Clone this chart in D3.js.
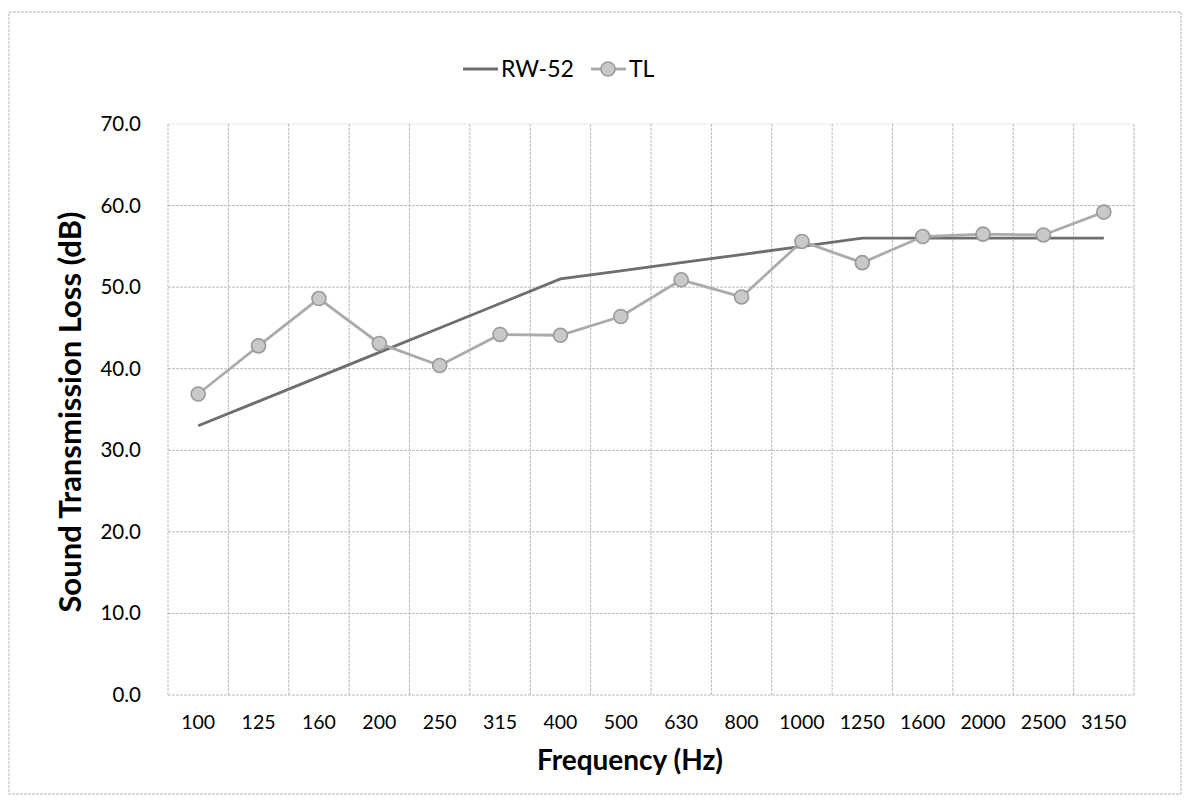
<!DOCTYPE html>
<html>
<head>
<meta charset="utf-8">
<script src="https://cdn.jsdelivr.net/npm/d3@7"></script>
<style>
  html, body { margin: 0; padding: 0; background: #fff; }
  svg { display: block; }
  text { font-family: Lato, "Open Sans", sans-serif; fill: #000; }
</style>
</head>
<body>
<svg id="chart" width="1187" height="802"></svg>
<script>
const categories = ["100","125","160","200","250","315","400","500","630","800","1000","1250","1600","2000","2500","3150"];
const rw52 = [33,36,39,42,45,48,51,52,53,54,55,56,56,56,56,56];
const tl = [36.9,42.8,48.6,43.1,40.4,44.2,44.1,46.4,50.9,48.8,55.6,53.0,56.2,56.5,56.4,59.2];
const yTicks = [0,10,20,30,40,50,60,70];

const svg = d3.select("#chart");
const plot = {left: 168, right: 1134, top: 124, bottom: 695};

// outer chart border
svg.append("rect")
  .attr("x", 9).attr("y", 12).attr("width", 1172).attr("height", 782)
  .attr("fill", "none").attr("stroke", "#b5b5b5").attr("stroke-width", 1)
  .attr("stroke-dasharray", "3,1");

const x = d3.scaleBand().domain(categories).range([plot.left, plot.right]).padding(0);
const y = d3.scaleLinear().domain([0, 70]).range([plot.bottom, plot.top]);

const g = svg.append("g");

// horizontal gridlines
g.append("g").selectAll("line").data(yTicks).join("line")
  .attr("x1", plot.left).attr("x2", plot.right)
  .attr("y1", d => y(d)).attr("y2", d => y(d))
  .attr("stroke", d => d === 70 ? "#e2e2e2" : "#bcbcbc")
  .attr("stroke-width", 1)
  .attr("stroke-dasharray", "3,1");

// vertical gridlines at category boundaries
const bounds = categories.map(c => x(c)).concat([plot.right]);
g.append("g").selectAll("line").data(bounds).join("line")
  .attr("x1", d => d).attr("x2", d => d)
  .attr("y1", plot.top).attr("y2", plot.bottom)
  .attr("stroke", "#bcbcbc").attr("stroke-width", 1)
  .attr("stroke-dasharray", "3,1");

// y axis labels
const yAxis = d3.axisLeft(y).tickValues(yTicks).tickFormat(d3.format(".1f")).tickSize(0).tickPadding(0);
const ya = svg.append("g").attr("transform", `translate(${141},0)`).call(yAxis);
ya.select(".domain").remove();
ya.selectAll("text").attr("font-size", 20.5).attr("font-family", "Lato, 'Open Sans', sans-serif").attr("fill", "#000");

// x axis labels
const xAxis = d3.axisBottom(x).tickSize(0).tickPadding(0);
const xa = svg.append("g").attr("transform", `translate(0,${715})`).call(xAxis);
xa.select(".domain").remove();
xa.selectAll("text").attr("font-size", 19.5).attr("font-family", "Lato, 'Open Sans', sans-serif").attr("fill", "#000");

// axis titles
svg.append("text")
  .attr("x", 630).attr("y", 770)
  .attr("text-anchor", "middle")
  .attr("font-size", 28).attr("font-weight", "bold")
  .text("Frequency (Hz)");

svg.append("text")
  .attr("transform", `translate(${81},${412}) rotate(-90)`)
  .attr("text-anchor", "middle")
  .attr("font-size", 31).attr("font-weight", "bold")
  .text("Sound Transmission Loss (dB)");

const cx = d => x(d) + x.bandwidth() / 2;

// RW-52 line
const lineRW = d3.line().x((d, i) => cx(categories[i])).y(d => y(d));
svg.append("path").datum(rw52)
  .attr("d", lineRW)
  .attr("fill", "none").attr("stroke", "#6e6e6e").attr("stroke-width", 2.8);

// TL line
const lineTL = d3.line().x((d, i) => cx(categories[i])).y(d => y(d));
svg.append("path").datum(tl)
  .attr("d", lineTL)
  .attr("fill", "none").attr("stroke", "#ababab").attr("stroke-width", 2.8);

svg.append("g").selectAll("circle").data(tl).join("circle")
  .attr("cx", (d, i) => cx(categories[i]))
  .attr("cy", d => y(d))
  .attr("r", 7)
  .attr("fill", "#c9c9c9").attr("stroke", "#9a9a9a").attr("stroke-width", 1.6);

// legend
const leg = svg.append("g");
leg.append("line").attr("x1", 463).attr("x2", 498).attr("y1", 69).attr("y2", 69)
  .attr("stroke", "#6e6e6e").attr("stroke-width", 2.8);
leg.append("text").attr("x", 501).attr("y", 77).attr("font-size", 23).text("RW-52");
leg.append("line").attr("x1", 591).attr("x2", 626).attr("y1", 69).attr("y2", 69)
  .attr("stroke", "#ababab").attr("stroke-width", 2.8);
leg.append("circle").attr("cx", 608).attr("cy", 69).attr("r", 7)
  .attr("fill", "#c9c9c9").attr("stroke", "#9a9a9a").attr("stroke-width", 1.6);
leg.append("text").attr("x", 629).attr("y", 77).attr("font-size", 23).text("TL");
</script>
</body>
</html>
